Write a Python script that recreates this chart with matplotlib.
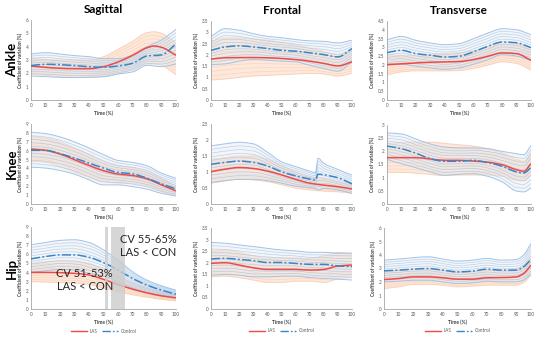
import numpy as np
import matplotlib
matplotlib.use('Agg')
import matplotlib.pyplot as plt
from matplotlib.path import Path
from matplotlib.patches import PathPatch
from matplotlib.lines import Line2D

plt.rcParams['font.family'] = ['Lato', 'DejaVu Sans']

# time axis (% of stance) used by most curves
T10 = [0, 10, 20, 30, 40, 50, 60, 70, 80, 90, 100]
T_KNEE_FR = [0, 10, 20, 30, 40, 50, 60, 70, 74, 76, 80, 90, 100]
T_END95 = [0, 10, 20, 30, 40, 50, 60, 70, 80, 90, 95, 100]
T_ANK_SAG = [0, 10, 20, 30, 40, 50, 60, 70, 80, 85, 90, 100]

planes = ['Sagittal', 'Frontal', 'Transverse']
joints = ['Ankle', 'Knee', 'Hip']

# ---- ankle ----
ank_sag_las = [2.55, 2.45, 2.38, 2.35, 2.35, 2.5, 2.85, 3.35, 3.92, 4.05, 3.95, 3.35]
ank_sag_las_lo = [1.95, 1.85, 1.75, 1.7, 1.72, 1.75, 1.95, 2.3, 2.7, 2.7, 2.6, 1.9]
ank_sag_las_hi = [3.15, 3.05, 3.0, 3.0, 3.0, 3.25, 3.8, 4.4, 5.05, 5.12, 5.0, 4.3]
ank_sag_con = [2.58, 2.68, 2.65, 2.58, 2.5, 2.45, 2.55, 2.75, 3.3, 3.38, 4.2]
ank_sag_con_lo = [1.8, 1.75, 1.7, 1.68, 1.7, 1.75, 1.95, 2.1, 2.6, 2.5, 2.7]
ank_sag_con_hi = [3.45, 3.55, 3.45, 3.33, 3.25, 3.1, 3.1, 3.35, 4.0, 4.5, 5.3]

ank_fr_las = [1.81, 1.87, 1.88, 1.88, 1.87, 1.84, 1.79, 1.72, 1.62, 1.51, 1.69]
ank_fr_las_lo = [0.88, 0.93, 1.0, 1.06, 1.09, 1.12, 1.15, 1.18, 1.15, 1.06, 1.18]
ank_fr_las_hi = [2.6, 2.75, 2.75, 2.7, 2.65, 2.55, 2.45, 2.3, 2.15, 2.0, 2.2]
ank_fr_con = [2.2, 2.35, 2.4, 2.35, 2.28, 2.2, 2.16, 2.09, 2.01, 1.91, 2.28]
ank_fr_con_lo = [1.57, 1.6, 1.72, 1.79, 1.76, 1.72, 1.69, 1.54, 1.4, 1.28, 1.69]
ank_fr_con_hi = [2.82, 3.16, 3.09, 2.94, 2.82, 2.76, 2.68, 2.62, 2.6, 2.53, 2.65]

ank_tr_las = [2.02, 2.06, 2.11, 2.15, 2.17, 2.19, 2.3, 2.49, 2.68, 2.64, 2.26]
ank_tr_las_lo = [1.42, 1.6, 1.66, 1.66, 1.66, 1.68, 1.79, 1.98, 2.17, 2.08, 1.7]
ank_tr_las_hi = [2.6, 2.55, 2.55, 2.6, 2.65, 2.7, 2.8, 3.0, 3.2, 3.2, 2.85]
ank_tr_con = [2.7, 2.83, 2.64, 2.55, 2.45, 2.49, 2.74, 3.06, 3.3, 3.26, 2.98]
ank_tr_con_lo = [1.98, 2.04, 1.92, 1.83, 1.75, 1.83, 2.04, 2.3, 2.58, 2.5, 2.26]
ank_tr_con_hi = [3.43, 3.62, 3.4, 3.25, 3.15, 3.21, 3.49, 3.81, 4.06, 4.0, 3.72]

# ---- knee ----
kne_sag_las = [6.19, 6.04, 5.62, 4.98, 4.34, 3.74, 3.36, 3.2, 2.83, 2.15, 1.47]
kne_sag_las_lo = [4.8, 4.7, 4.2, 3.6, 3.0, 2.5, 2.35, 2.3, 2.0, 1.4, 0.95]
kne_sag_las_hi = [7.6, 7.4, 7.0, 6.3, 5.6, 4.8, 4.3, 4.1, 3.7, 2.9, 2.0]
kne_sag_con = [6.04, 6.04, 5.66, 5.17, 4.6, 4.04, 3.55, 3.4, 2.9, 2.26, 1.7]
kne_sag_con_lo = [4.15, 4.04, 3.77, 3.36, 2.72, 2.15, 2.15, 1.96, 1.66, 1.2, 0.9]
kne_sag_con_hi = [8.08, 7.92, 7.55, 6.98, 6.3, 5.55, 4.9, 4.68, 4.3, 3.47, 2.9]

kne_fr_las = [1.01, 1.09, 1.14, 1.11, 1.03, 0.91, 0.77, 0.65, 0.59, 0.54, 0.47]
kne_fr_las_lo = [0.65, 0.72, 0.78, 0.75, 0.7, 0.6, 0.5, 0.44, 0.4, 0.38, 0.33]
kne_fr_las_hi = [1.4, 1.45, 1.5, 1.5, 1.4, 1.2, 1.0, 0.85, 0.8, 0.7, 0.6]
kne_fr_con = [1.24, 1.3, 1.34, 1.3, 1.19, 1.01, 0.88, 0.78, 0.75, 0.93, 0.91, 0.82, 0.63]
kne_fr_con_lo = [0.67, 0.73, 0.77, 0.77, 0.73, 0.65, 0.56, 0.51, 0.48, 0.44, 0.49, 0.44, 0.33]
kne_fr_con_hi = [1.82, 1.88, 1.93, 1.88, 1.62, 1.32, 1.17, 1.03, 0.98, 1.43, 1.27, 1.08, 0.9]

kne_tr_las = [1.76, 1.76, 1.76, 1.71, 1.66, 1.66, 1.63, 1.59, 1.49, 1.3, 1.24, 1.53]
kne_tr_las_lo = [1.2, 1.2, 1.17, 1.12, 1.08, 1.1, 1.1, 1.1, 1.05, 0.9, 0.88, 1.1]
kne_tr_las_hi = [2.3, 2.33, 2.35, 2.35, 2.3, 2.25, 2.2, 2.1, 1.95, 1.7, 1.62, 1.95]
kne_tr_con = [2.2, 2.1, 1.93, 1.72, 1.62, 1.62, 1.66, 1.57, 1.43, 1.22, 1.18, 1.38]
kne_tr_con_lo = [1.69, 1.53, 1.38, 1.22, 1.09, 1.13, 1.15, 1.05, 0.84, 0.49, 0.46, 0.61]
kne_tr_con_hi = [2.7, 2.66, 2.47, 2.28, 2.16, 2.13, 2.13, 2.1, 2.0, 1.91, 1.87, 2.22]

# ---- hip ----
hip_sag_las = [4.02, 4.02, 3.99, 3.91, 3.73, 3.25, 2.69, 2.18, 1.77, 1.44, 1.22]
hip_sag_las_lo = [3.0, 2.95, 2.9, 2.85, 2.7, 2.3, 1.9, 1.55, 1.3, 1.05, 0.9]
hip_sag_las_hi = [5.0, 5.2, 5.25, 5.2, 5.0, 4.3, 3.6, 2.9, 2.3, 1.85, 1.55]
hip_sag_con = [5.5, 5.76, 5.94, 5.94, 5.68, 5.09, 4.28, 3.36, 2.62, 2.07, 1.62]
hip_sag_con_lo = [4.02, 4.2, 4.35, 4.28, 3.91, 3.62, 2.99, 2.32, 1.81, 1.51, 1.25]
hip_sag_con_hi = [7.05, 7.3, 7.53, 7.6, 7.3, 6.49, 5.39, 4.1, 3.17, 2.55, 2.07]

hip_fr_las = [1.97, 2.0, 1.9, 1.78, 1.71, 1.71, 1.71, 1.68, 1.71, 1.86, 1.9]
hip_fr_las_lo = [1.4, 1.42, 1.35, 1.25, 1.15, 1.15, 1.2, 1.2, 1.15, 1.3, 1.4]
hip_fr_las_hi = [2.5, 2.55, 2.45, 2.3, 2.2, 2.2, 2.2, 2.2, 2.3, 2.45, 2.4]
hip_fr_con = [2.16, 2.19, 2.14, 2.09, 2.01, 2.01, 1.97, 1.93, 1.93, 1.86, 1.83]
hip_fr_con_lo = [1.46, 1.49, 1.46, 1.39, 1.39, 1.42, 1.42, 1.36, 1.32, 1.29, 1.25]
hip_fr_con_hi = [2.88, 2.84, 2.77, 2.7, 2.62, 2.55, 2.51, 2.45, 2.45, 2.41, 2.41]

hip_tr_las = [2.18, 2.26, 2.38, 2.38, 2.31, 2.21, 2.21, 2.31, 2.33, 2.38, 2.63, 3.25]
hip_tr_las_lo = [1.51, 1.64, 1.81, 1.81, 1.76, 1.64, 1.69, 1.76, 1.76, 1.76, 1.95, 2.5]
hip_tr_las_hi = [2.75, 2.85, 2.95, 2.95, 2.9, 2.8, 2.8, 2.85, 2.85, 2.95, 3.25, 3.9]
hip_tr_con = [2.83, 2.88, 2.95, 3.0, 2.88, 2.75, 2.8, 2.95, 2.88, 2.88, 3.13, 3.67]
hip_tr_con_lo = [2.01, 2.06, 2.13, 2.13, 2.01, 1.89, 1.94, 2.06, 2.01, 2.01, 2.15, 2.6]
hip_tr_con_hi = [3.62, 3.7, 3.8, 3.87, 3.7, 3.55, 3.62, 3.75, 3.62, 3.67, 4.0, 4.86]

# y-axis max and step per panel (rows = joints, cols = planes)
y_max = [[6, 3.5, 4.5], [9, 2.5, 3], [9, 3.5, 6]]
y_step = [[1, 0.5, 0.5], [1, 0.5, 0.5], [1, 0.5, 1]]

# significant windows in the hip sagittal plot
hip_windows = [(51, 53), (55, 65)]
hip_notes = ['CV 51-53%\nLAS < CON', 'CV 55-65%\nLAS < CON']

# (las_t, las, lo, hi, con_t, con, lo, hi) for each panel
panels = [
    [(T_ANK_SAG, ank_sag_las, ank_sag_las_lo, ank_sag_las_hi, T10, ank_sag_con, ank_sag_con_lo, ank_sag_con_hi),
     (T10, ank_fr_las, ank_fr_las_lo, ank_fr_las_hi, T10, ank_fr_con, ank_fr_con_lo, ank_fr_con_hi),
     (T10, ank_tr_las, ank_tr_las_lo, ank_tr_las_hi, T10, ank_tr_con, ank_tr_con_lo, ank_tr_con_hi)],
    [(T10, kne_sag_las, kne_sag_las_lo, kne_sag_las_hi, T10, kne_sag_con, kne_sag_con_lo, kne_sag_con_hi),
     (T10, kne_fr_las, kne_fr_las_lo, kne_fr_las_hi, T_KNEE_FR, kne_fr_con, kne_fr_con_lo, kne_fr_con_hi),
     (T_END95, kne_tr_las, kne_tr_las_lo, kne_tr_las_hi, T_END95, kne_tr_con, kne_tr_con_lo, kne_tr_con_hi)],
    [(T10, hip_sag_las, hip_sag_las_lo, hip_sag_las_hi, T10, hip_sag_con, hip_sag_con_lo, hip_sag_con_hi),
     (T10, hip_fr_las, hip_fr_las_lo, hip_fr_las_hi, T10, hip_fr_con, hip_fr_con_lo, hip_fr_con_hi),
     (T_END95, hip_tr_las, hip_tr_las_lo, hip_tr_las_hi, T_END95, hip_tr_con, hip_tr_con_lo, hip_tr_con_hi)],
]

RED = '#ee4a4a'
BLUE = '#3a85c8'
BLUE_BAND = '#9fc3e8'
ORANGE_BAND = '#f6bf9b'
DASHDOT = (0, (6, 1.5, 1.2, 1.5))


def slopes(t, y):
    # shape preserving tangents (pchip style) so the smoothed curve doesn't overshoot
    h = np.diff(t)
    d = np.diff(y) / h
    m = np.zeros(len(t))
    m[0], m[-1] = d[0], d[-1]
    for i in range(1, len(t) - 1):
        if d[i - 1] * d[i] <= 0:
            m[i] = 0
        else:
            w1 = 2 * h[i] + h[i - 1]
            w2 = h[i] + 2 * h[i - 1]
            m[i] = (w1 + w2) / (w1 / d[i - 1] + w2 / d[i])
    return m


def bezier_verts(t, y):
    t = np.asarray(t, float)
    y = np.asarray(y, float)
    m = slopes(t, y)
    verts = [(t[0], y[0])]
    for i in range(len(t) - 1):
        h = t[i + 1] - t[i]
        verts.append((t[i] + h / 3, y[i] + m[i] * h / 3))
        verts.append((t[i + 1] - h / 3, y[i + 1] - m[i + 1] * h / 3))
        verts.append((t[i + 1], y[i + 1]))
    return verts


def smooth_line(ax, t, y, **kw):
    v = bezier_verts(t, y)
    codes = [Path.MOVETO] + [Path.CURVE4] * (len(v) - 1)
    ax.add_patch(PathPatch(Path(v, codes), fill=False, **kw))


def band(ax, t, lo, hi, face, edge, n_lines, alpha, line_alpha, zorder):
    up = bezier_verts(t, hi)
    down = bezier_verts(t, lo)[::-1]
    verts = up + down + [up[0]]
    codes = ([Path.MOVETO] + [Path.CURVE4] * (len(up) - 1) + [Path.LINETO]
             + [Path.CURVE4] * (len(down) - 1) + [Path.CLOSEPOLY])
    ax.add_patch(PathPatch(Path(verts, codes), facecolor=face, edgecolor='none',
                           alpha=alpha, zorder=zorder))
    lo = np.asarray(lo, float)
    hi = np.asarray(hi, float)
    for k in range(n_lines + 1):
        yk = lo + (hi - lo) * k / n_lines
        edge_line = k in (0, n_lines)
        smooth_line(ax, t, yk, edgecolor=edge, lw=0.7 if edge_line else 0.45,
                    alpha=min(1, line_alpha * 1.3) if edge_line else line_alpha,
                    zorder=zorder + 0.1)


fig = plt.figure(figsize=(5.37, 3.41), dpi=100)
W, H = 537.0, 341.0

# axes boxes in pixels: (left, top, right, bottom)
boxes = [
    [(31, 20, 176, 100), (211, 21, 352, 100), (387, 21, 531, 100)],
    [(31, 124, 176, 204), (211, 124, 352, 204), (387, 125, 531, 204)],
    [(31, 227, 176, 309), (211, 228, 352, 309), (384, 228, 531, 309)],
]

for r in range(3):
    for c in range(3):
        l, t_, rr, b = boxes[r][c]
        ax = fig.add_axes([l / W, 1 - b / H, (rr - l) / W, (b - t_) / H])
        las_t, las, las_lo, las_hi, con_t, con, con_lo, con_hi = panels[r][c]

        band(ax, las_t, las_lo, las_hi, '#fde3d2', ORANGE_BAND, 9, 0.8, 0.5, 1)
        band(ax, con_t, con_lo, con_hi, '#e3e8ee', BLUE_BAND, 10, 0.4, 0.75, 2)
        smooth_line(ax, las_t, las, edgecolor=RED, lw=1.1, zorder=5)
        smooth_line(ax, con_t, con, edgecolor=BLUE, lw=1.1, linestyle=DASHDOT, zorder=5)

        ax.set_xlim(0, 100)
        ax.set_ylim(0, y_max[r][c])
        ax.set_xticks(np.arange(0, 101, 10))
        ax.set_yticks(np.arange(0, y_max[r][c] + 1e-9, y_step[r][c]))
        ax.yaxis.set_major_formatter(plt.FuncFormatter(lambda v, p: '{:g}'.format(v)))
        ax.tick_params(length=0, labelsize=3.3, colors='#595959', pad=2)
        for s in ['top', 'right']:
            ax.spines[s].set_visible(False)
        for s in ['left', 'bottom']:
            ax.spines[s].set_color('#a6a6a6')
            ax.spines[s].set_linewidth(0.6)
        ax.set_xlabel('Time (%)', fontsize=3.6, fontweight='bold', color='#404040', labelpad=2)
        ax.set_ylabel('Coefficient of variation (%)', fontsize=3.3, fontweight='bold',
                      color='#404040', labelpad=2)
        ax.patch.set_alpha(0)

        if r == 0:
            ax.set_title(planes[c], fontsize=8.5, fontweight='bold', pad=5)
        if r == 2:
            handles = [Line2D([], [], color=RED, lw=1.0),
                       Line2D([], [], color=BLUE, lw=1.0, linestyle=DASHDOT)]
            ax.legend(handles, ['LAS', 'Control'], loc='center', bbox_to_anchor=(0.5, -0.27),
                      ncol=2, frameon=False, fontsize=3.3, handlelength=3.5,
                      columnspacing=1.0, handletextpad=0.6, labelcolor='#595959')
        if r == 2 and c == 0:
            for x0, x1 in hip_windows:
                ax.axvspan(x0, x1, color='#cccccc', alpha=0.8, lw=0, zorder=6)
            ax.text(37, 3.2, hip_notes[0], fontsize=8, ha='center', va='center',
                    color='#262626', zorder=7, linespacing=1.25)
            ax.text(81, 6.9, hip_notes[1], fontsize=8, ha='center', va='center',
                    color='#262626', zorder=7, linespacing=1.25)

# joint names down the left side
for name, yc in zip(joints, [60, 164, 268]):
    fig.text(12 / W, 1 - yc / H, name, rotation=90, fontsize=9.5, fontweight='bold',
             ha='center', va='center')

fig.savefig('out.png', dpi=100)
